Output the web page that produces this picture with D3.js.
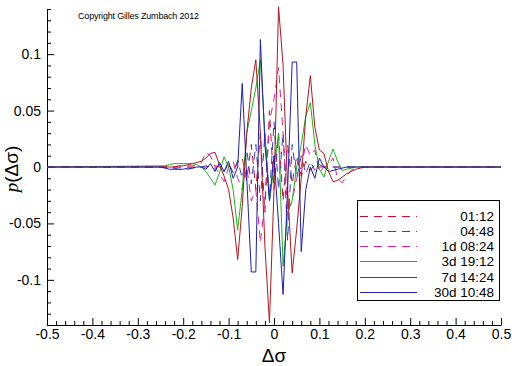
<!DOCTYPE html>
<html>
<head>
<meta charset="utf-8">
<script src="https://cdn.jsdelivr.net/npm/d3@7"></script>
<style>
  body { margin: 0; background: #fff; }
  svg { display: block; font-family: "Liberation Sans", Arial, sans-serif; }
</style>
</head>
<body>
<svg id="chart" width="512" height="366"></svg>
<script>
// Dados (Δσ em passos de 0.01 entre -0.25 e 0.25)
const xs = [-0.5,
  -0.25, -0.24, -0.23, -0.22, -0.21, -0.20, -0.19, -0.18, -0.17, -0.16,
  -0.15, -0.14, -0.13, -0.12, -0.11, -0.10, -0.09, -0.08, -0.07, -0.06,
  -0.05, -0.04, -0.03, -0.02, -0.01, 0, 0.01, 0.02, 0.03, 0.04,
  0.05, 0.06, 0.07, 0.08, 0.09, 0.10, 0.11, 0.12, 0.13, 0.14,
  0.15, 0.16, 0.17, 0.18, 0.19, 0.20, 0.21, 0.22, 0.23, 0.24, 0.25,
  0.5];

const s0112 = [0,
  0, 0, 0, 0, 0, 0, 0, 0, 0, 0,
  0, 0.001, 0.001, 0, -0.002, 0.002, -0.004, 0.004, 0.008, -0.012,
  0.02, -0.02, 0.03, -0.04, 0.05, -0.02, 0.03, -0.03, 0.02, -0.015,
  0.01, -0.008, 0.005, -0.003, 0.002, 0, 0, 0, 0, 0,
  0, 0, 0, 0, 0, 0, 0, 0, 0, 0, 0,
  0];

const s0448 = [0,
  0, 0, -0.001, -0.001, -0.002, -0.002, -0.002, -0.001, 0, 0,
  0.001, 0, -0.002, 0.002, -0.004, 0.003, -0.005, 0.006, -0.01, 0.015,
  -0.015, 0.02, -0.03, 0.03, -0.027, 0.04, -0.02, 0.03, -0.065, 0.02,
  -0.01, 0.01, -0.006, 0.005, -0.003, 0.002, 0, 0, 0, 0,
  0, 0, 0, 0, 0, 0, 0, 0, 0, 0, 0,
  0];

const s1d0824 = [0,
  0, 0, 0, 0, 0, 0, 0.001, 0.001, 0.002, 0.004,
  0.013, 0.01, 0, -0.006, -0.013, 0, 0.005, -0.01, -0.02, 0,
  -0.03, -0.02, -0.067, -0.03, 0.04, 0.06, 0.088, 0.03, -0.04, -0.03,
  -0.01, 0, 0.02, 0.01, 0.015, -0.005, 0, 0.002, 0.008, -0.01,
  -0.014, -0.008, -0.003, -0.001, 0, 0, 0, 0, 0, 0, 0,
  0];

const s3d1912 = [0,
  0.001, 0.001, 0.002, 0.003, 0.003, 0.003, 0.003, 0.003, 0.002, 0,
  -0.004, -0.01, -0.016, -0.005, 0.009, 0, -0.02, -0.056, -0.02, 0.03,
  0.05, 0.07, 0.095, 0.03, -0.03, 0, 0.03, -0.088, -0.04, -0.03,
  0, 0.02, 0.045, 0.057, 0.02, -0.002, -0.009, 0.005, 0.016, 0.005,
  -0.003, -0.002, -0.001, 0, 0, 0, 0, 0, 0, 0, 0,
  0];

const s7d1424 = [0,
  0, 0, 0, 0, 0.001, 0.001, 0.002, 0.003, 0.004, 0.005,
  0.008, 0.012, 0.013, 0.002, -0.008, -0.02, -0.045, -0.082, -0.035, 0.03,
  0.07, 0.095, 0.03, -0.07, -0.138, -0.02, 0.142, 0.09, -0.02, -0.094,
  -0.055, -0.01, 0.045, 0.081, 0.035, 0.015, 0.012, -0.004, -0.013, -0.012,
  -0.009, -0.006, -0.004, -0.002, -0.001, 0, 0, 0, 0, 0, 0,
  0];

const s30d1048 = [0,
  0, -0.001, -0.002, -0.002, -0.002, -0.002, -0.001, -0.001, 0, 0,
  -0.002, 0.003, -0.004, 0.004, -0.004, 0.005, -0.01, 0, 0.074, -0.01,
  -0.093, -0.093, 0.113, 0.02, -0.03, 0.01, -0.05, -0.113, -0.02, 0.093,
  0.093, -0.075, -0.02, 0, -0.01, 0.008, 0, -0.004, -0.003, -0.002,
  -0.001, 0, 0, 0, 0, 0, 0, 0, 0, 0, 0,
  0];

const seriesNames = ["01:12", "04:48", "1d 08:24", "3d 19:12", "7d 14:24", "30d 10:48"];
const seriesValues = [s0112, s0448, s1d0824, s3d1912, s7d1424, s30d1048];
const seriesColors = ["#c8102e", "#3c3cc8", "#e01ea0", "#19b419", "#b4141e", "#1e1eb4"];
const seriesDashed = [true, true, true, false, false, false];

const xTicks = [-0.5, -0.4, -0.3, -0.2, -0.1, 0, 0.1, 0.2, 0.3, 0.4, 0.5];
const xTickLabels = ["-0.5", "-0.4", "-0.3", "-0.2", "-0.1", "0", "0.1", "0.2", "0.3", "0.4", "0.5"];
const yTicks = [-0.1, -0.05, 0, 0.05, 0.1];
const yTickLabels = ["-0.1", "-0.05", "0", "0.05", "0.1"];

const svg = d3.select("#chart");

const x = d3.scaleLinear().domain([-0.5, 0.5]).range([47, 501]);
const y = d3.scaleLinear().domain([-0.14, 0.14]).range([325, 9]);

// Ticks menores
const xMinor = d3.range(-50, 51, 2).map(d => d / 100).filter(d => !xTicks.some(t => Math.abs(t - d) < 1e-9));
const yMinor = d3.range(-14, 15, 1).map(d => d / 100).filter(d => !yTicks.some(t => Math.abs(t - d) < 1e-9));

svg.append("g")
  .attr("transform", "translate(0,325)")
  .call(d3.axisBottom(x).tickValues(xMinor).tickSize(-4).tickFormat(""))
  .call(g => g.select(".domain").remove());

svg.append("g")
  .attr("transform", "translate(47,0)")
  .call(d3.axisLeft(y).tickValues(yMinor).tickSize(-4).tickFormat(""))
  .call(g => g.select(".domain").remove());

// Eixos principais
const xAxis = svg.append("g")
  .attr("transform", "translate(0,325)")
  .call(d3.axisBottom(x).tickValues(xTicks).tickSizeInner(-7).tickSizeOuter(0).tickPadding(4)
    .tickFormat((d, i) => xTickLabels[i]));

const yAxis = svg.append("g")
  .attr("transform", "translate(47,0)")
  .call(d3.axisLeft(y).tickValues(yTicks).tickSizeInner(-7).tickSizeOuter(0).tickPadding(6)
    .tickFormat((d, i) => yTickLabels[i]));

svg.selectAll(".tick text").attr("font-size", 14).attr("font-family", "Liberation Sans, Arial, sans-serif").attr("fill", "#000");

// Curvas
const line = d3.line().x((d, i) => x(xs[i])).y(d => y(d));

seriesValues.forEach((vals, k) => {
  svg.append("path")
    .datum(vals)
    .attr("fill", "none")
    .attr("stroke", seriesColors[k])
    .attr("stroke-width", 1)
    .attr("stroke-dasharray", seriesDashed[k] ? "8,6" : null)
    .attr("d", line);
});

// Títulos
svg.append("text")
  .attr("x", 274).attr("y", 362)
  .attr("text-anchor", "middle")
  .attr("font-size", 19)
  .text("Δσ");

svg.append("text")
  .attr("transform", "translate(18,169) rotate(-90)")
  .attr("text-anchor", "middle")
  .attr("font-size", 19)
  .call(t => t.append("tspan").attr("font-style", "italic").attr("font-family", "Liberation Serif, serif").text("p"))
  .call(t => t.append("tspan").text("(Δσ)"));

svg.append("text")
  .attr("x", 78).attr("y", 19)
  .attr("font-size", 9)
  .attr("textLength", 121)
  .text("Copyright Gilles Zumbach 2012");

// Legenda
const legend = svg.append("g");
legend.append("rect")
  .attr("x", 357.5).attr("y", 200.5)
  .attr("width", 142).attr("height", 100)
  .attr("fill", "#fff").attr("stroke", "#000");

seriesNames.forEach((name, k) => {
  const ly = 215.5 + k * 15.3;
  legend.append("line")
    .attr("x1", 360).attr("x2", 417)
    .attr("y1", Math.round(ly) + 0.5).attr("y2", Math.round(ly) + 0.5)
    .attr("stroke", seriesColors[k])
    .attr("stroke-dasharray", seriesDashed[k] ? "8,6" : null);
  legend.append("text")
    .attr("x", 494).attr("y", ly + 5)
    .attr("text-anchor", "end")
    .attr("font-size", 13.5)
    .text(name);
});
</script>
</body>
</html>
